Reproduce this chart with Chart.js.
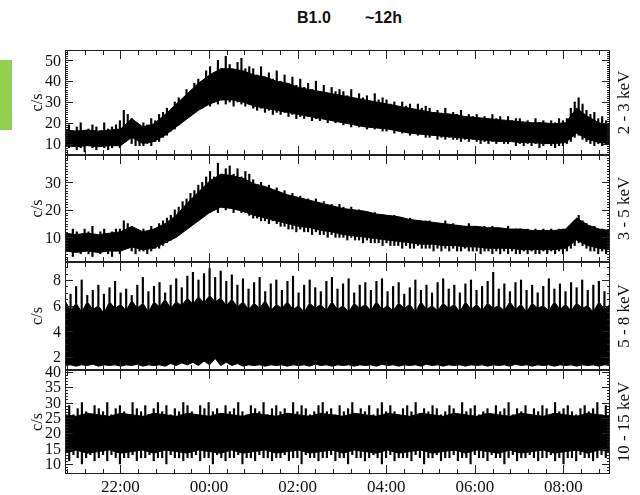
<!DOCTYPE html>
<html>
<head>
<meta charset="utf-8">
<script src="https://cdn.jsdelivr.net/npm/chart.js@4.4.1/dist/chart.umd.min.js"></script>
<style>
  body { margin: 0; background: #fff; }
  #wrap { position: relative; width: 640px; height: 495px; overflow: hidden; }
  canvas { position: absolute; left: 0; }
  .ttl { position: absolute; top: 9px; font: bold 16px "Liberation Sans", Arial, sans-serif; color: #111; }
  #tag { position: absolute; left: 0; top: 60px; width: 12px; height: 70px; background: #92D050; }
</style>
</head>
<body>
<div id="wrap">
  <span class="ttl" style="left:297px">B1.0</span>
  <span class="ttl" style="left:365px">~12h</span>
  <div id="tag"></div>
  <canvas id="c1" width="640" height="135" style="top:35px"></canvas>
  <canvas id="c2" width="640" height="137" style="top:140px"></canvas>
  <canvas id="c3" width="640" height="138" style="top:247px"></canvas>
  <canvas id="c4" width="640" height="140" style="top:355px"></canvas>
</div>
<script>
// time runs in hours after midnight of the first day (24 = 00:00, 32 = 08:00)
const tStart = 20.75;
const tEnd = 33.05;
const hourTicks = [22, 24, 26, 28, 30, 32];
const hourLabels = ["22:00", "00:00", "02:00", "04:00", "06:00", "08:00"];

// 2 - 3 keV: dense core of the band (50 samples) and the spike extremes (140 samples)
const core23Hi = [16.5,16,16.5,16,16.5,17,22,18,19.5,24, 29,34,39,43,46,46,45,43,42,40,
  39,37,36,35,34,33,32,31,30,29, 28,27,26,25,24.5,24,23,22.5,22,21.5, 21,20.5,20,20,19.5,20,27,23,20,19];
const core23Lo = [9,8.5,9,8.5,9,9,13,10,11,14, 18,22,26,29,31,31,30,28,27,26,
  25,24,23,22,21,20,19,18,17.5,17, 16,15,14.5,14,13.5,13,12.5,12,11.5,11, 11,10.5,10.5,10,10,10.5,15,12,10.5,10];
const up23 = [17,19,16,18,20,16,17,19,18,16,20,17,18,19, 21,26,24,22,19,18, 20,19,22,21,24,25,
  27,26,30,32,31,36,35,39,41,40,45, 47,44,50,46,52,48,45,49,51,46,47,
  46,43,47,42,44,41,45,40,43,39,42,38, 41,37,39,36,40,35,38,34,37,35,36,
  35,33,36,31,34,32,33,30,34,31,32, 31,29,30,27,30,28,29,26,29,27,28,
  27,25,26,24,27,23,25,24,26,22,24,23, 24,22,23,21,24,22,23,20,23,21,22,
  22,20,21,19,22,20,21,19,21,20,22, 21,22,27,30,32,29,26,24,25,22,23,21,20];
const dn23 = [7,8,9,7,8,6,9,8,7,9,8,7,8,9, 8,11,12,10,9,9, 9,10,9,11,11,13,
  14,16,17,19,21,22,24,25,27,27,29, 28,30,29,31,29,30,28,30,29,28,29,
  27,26,27,25,26,24,25,24,25,23,24,22, 23,22,23,21,22,21,22,20,21,20,21,
  19,20,18,19,18,19,17,18,17,18,16, 16,17,15,16,15,16,14,15,14,15,13,
  13,14,12,13,12,13,12,12,11,12,11,12, 11,10,11,10,11,10,11,10,10,11,9,
  10,9,10,9,10,8,9,10,9,8,9, 9,10,11,13,14,12,11,10,9,10,9,10,9];

// 3 - 5 keV
const core35Hi = [11.5,11,11.5,11,11.5,12,14,12,13,15, 18,22.5,26.5,30.5,33,32.5,31.5,29.5,28.5,27,
  25.5,24.5,23.5,22.5,21.5,20.5,20,19.5,18.5,18, 17.5,16.5,16,15.5,15,14.5,14,14,13.5,13.5,
  13,13,12.5,12.5,12.5,13,17,14.5,13,12.5];
const core35Lo = [5,4.5,5,4.5,5,5,6.5,5.5,6,8, 10,13,16,19,21,20.5,19.5,18,17,16,
  15,14,13.5,12.5,12,11,10.5,10,9.5,9, 8.5,8,7.5,7.5,7,7,6.5,6.5,6,6, 6,5.5,5.5,5.5,5.5,6,9,7,6,5.5];
const up35 = [12,11,13,12,11,13,12,14,11,12,13,11,12,13, 13,16,15,13,12,12, 13,12,14,13,15,16,
  17,18,20,21,23,24,26,27,29,30,32, 34,32,37,33,35,36,33,35,32,34,33,
  31,29,30,28,29,27,28,26,27,25,26,24, 25,23,24,22,24,22,23,21,22,21,22,
  21,20,21,19,20,18,19,18,19,17,18, 18,17,18,16,17,16,17,15,16,15,16,
  16,15,15,14,16,14,15,13,14,14,15,13, 14,13,14,13,14,12,13,13,14,12,13,
  13,12,13,12,13,12,13,12,13,12,13, 13,12,14,16,18,16,15,14,14,13,13,12,13];
const dn35 = [4,5,3,5,4,5,4,3,5,4,5,4,3,5, 4,6,6,5,4,5, 5,4,5,6,6,7,
  8,9,10,12,12,14,15,16,17,18,19, 19,20,19,21,20,21,19,20,19,19,18,
  17,17,16,16,15,16,15,14,14,13,13,12, 13,12,12,11,12,11,11,10,11,10,10,
  10,9,10,9,9,8,9,8,8,8,7, 8,7,7,7,6,7,6,6,7,6,6,
  6,5,6,5,6,5,6,5,5,6,5,5, 5,4,5,5,4,5,4,5,4,5,4,
  4,5,4,5,4,4,5,4,5,4,5, 4,5,6,7,8,7,6,5,5,4,5,4,5];

// 5 - 8 keV: spike tops, top of the solid core, bottom of the core
const peak58 = [7.8,6.9,7.5,8.0,6.8,7.2,7.6,6.9,7.4,7.9, 7.0,7.3,6.8,7.6,8.2,7.1,7.5,7.8,7.0,7.6,
  8.1,7.4,8.3,8.6,8.0,8.5,8.9,8.2,8.7,7.9, 8.4,7.6,8.1,7.3,7.8,8.2,7.1,7.7,8.0,7.2,
  7.9,8.3,7.0,7.6,8.0,7.4,7.1,7.9,8.2,7.3, 7.7,8.1,7.0,7.6,7.8,7.2,7.9,8.1,7.1,7.5,
  7.8,6.9,7.4,8.0,7.2,7.6,7.0,7.8,8.1,7.3, 7.6,7.0,7.7,8.0,7.2,7.5,7.9,8.6,7.3,7.7,
  7.1,7.8,8.0,7.2,7.6,7.0,7.5,8.1,7.3,7.7, 7.1,7.8,7.4,8.0,7.2,7.6,7.9,7.1,7.5];
const top58 = [6.4,5.6,6.2,5.5,6.3,5.7,6.0,5.4,6.3,5.8, 6.1,5.6,6.4,5.8,6.2,5.5,6.3,5.9,6.5,5.8,
  6.3,6.0,6.6,6.1,6.7,6.2,6.8,6.3,6.6,6.0, 6.5,5.9,6.3,5.7,6.2,5.8,6.4,5.6,6.1,5.8,
  6.3,5.7,6.0,5.5,6.2,5.8,6.1,5.6,6.3,5.7, 6.0,5.5,6.2,5.8,6.1,5.6,6.3,5.7,6.0,5.6,
  6.2,5.8,6.1,5.5,6.3,5.7,6.0,5.6,6.2,5.8, 6.1,5.5,6.3,5.7,6.1,5.6,6.2,5.8,6.0,5.6,
  6.3,5.7,6.1,5.5,6.2,5.8,6.0,5.6,6.3,5.7, 6.1,5.6,6.2,5.8,6.0,5.5,6.3,5.7,6.1];
const bot58 = [1.35,1.4,1.3,1.4,1.35,1.45,1.3,1.4,1.35,1.4, 1.3,1.4,1.35,1.45,1.3,1.4,1.35,1.4,1.3,1.5,
  1.35,1.55,1.4,1.6,1.35,1.7,1.4,1.9,1.35,1.6, 1.35,1.5,1.3,1.4,1.35,1.4,1.3,1.4,1.35,1.4,
  1.3,1.4,1.35,1.4,1.3,1.45,1.35,1.4,1.3,1.4, 1.35,1.4,1.3,1.4,1.35,1.4,1.3,1.45,1.35,1.4,
  1.3,1.4,1.35,1.4,1.3,1.45,1.35,1.4,1.3,1.4, 1.35,1.4,1.3,1.4,1.35,1.4,1.3,1.4,1.35,1.4,
  1.3,1.45,1.35,1.4,1.3,1.4,1.35,1.4,1.3,1.4, 1.35,1.4,1.3,1.4,1.35,1.4,1.3,1.4,1.35];

// 10 - 15 keV
const core1015Hi = [26,25.5,26.5,26,25.5,26.5,26,25.5,26.5,26, 25.5,26.5,26,25.5,26.5,26,25.5,26.5,26,25.5,
  26.5,26,25.5,26.5,26,25.5,26.5,26,25.5,26.5, 26,25.5,26.5,26,25.5,26.5,26,25.5,26.5,26,
  25.5,26.5,26,25.5,26.5,26,25.5,26.5,26,25.5];
const core1015Lo = [13.5,14.5,13.5,14,14.5,13.5,14,14.5,13.5,14.5, 14,13.5,14.5,14,13.5,14.5,13.5,14,14.5,13.5,
  14,14.5,13.5,14,14.5,13.5,14.5,14,13.5,14.5, 13.5,14,14.5,13.5,14,14.5,13.5,14.5,14,13.5,
  14.5,13.5,14,14.5,13.5,14,14.5,13.5,14.5,14];
const up1015 = [27,29,26,28,30,27,26,29,28,27,30,26,28,29,27,26,30,28,27,29,
  26,28,30,27,29,26,28,27,30,29, 27,26,29,28,30,27,28,26,29,27, 28,30,27,26,29,28,27,30,26,28,
  29,27,28,26,30,27,29,28,26,27, 29,30,27,28,26,29,27,28,30,26, 28,27,29,26,28,30,27,29,27,26,
  28,29,27,30,26,28,27,29,28,26, 27,29,28,26,30,27,28,29,26,27, 28,26,29,27,28,30,26,28,27,29,
  26,28,27,29,28,26,30,27,28,29, 27,26,28,29,27,28,30,26,29,27];
const dn1015 = [12,11,13,12,10,12,13,11,12,13,11,13,12,10,12,12,13,11,12,12,
  13,11,12,12,10,13,12,12,11,12, 12,13,11,12,12,10,13,12,11,12, 12,13,10,12,12,11,13,12,12,11,
  12,12,13,11,12,12,10,13,12,12, 11,12,12,13,11,12,12,10,13,12, 12,11,12,13,12,10,12,13,11,12,
  12,12,11,13,12,10,12,12,13,11, 12,12,13,11,12,12,10,13,12,12, 11,13,12,12,10,12,13,11,12,12,
  13,12,11,12,12,13,11,12,10,12, 12,11,13,12,12,11,12,13,12,12];

function timeOf(i, n) {
  return tStart + i * (tEnd - tStart) / (n - 1);
}
function series(vals) {
  return vals.map((v, i) => ({ x: timeOf(i, vals.length), y: v }));
}
function spans(lo, hi) {
  return hi.map((v, i) => ({ x: timeOf(i, hi.length), y: [lo[i], v] }));
}
function band(hi, lo) {
  return [
    { data: series(hi), borderColor: "#000", backgroundColor: "#000", borderWidth: 1, fill: "+1" },
    { data: series(lo), borderColor: "#000", borderWidth: 1, fill: false }
  ];
}
function spikes(lo, hi, w) {
  return { type: "bar", data: spans(lo, hi), backgroundColor: "#000", barThickness: w, grouped: false };
}

const serif = '"Liberation Serif", "Times New Roman", serif';

const frameTicks = {
  id: "frameTicks",
  afterDatasetsDraw(chart, args, o) {
    const { ctx, chartArea: a, scales: { x, y } } = chart;
    ctx.save();
    ctx.strokeStyle = "#222";
    ctx.lineWidth = 1;
    ctx.beginPath();
    // time ticks, every 24 min, long ones every 2 h
    for (let k = -3; k <= 28; k++) {
      const h = 22 + k * 0.4;
      if (h < tStart || h > tEnd) continue;
      const px = Math.round(x.getPixelForValue(h)) + 0.5;
      const major = Math.abs(h - Math.round(h)) < 1e-6 && Math.round(h) % 2 === 0;
      const len = major ? 9 : 5;
      ctx.moveTo(px, a.top); ctx.lineTo(px, a.top + len);
      ctx.moveTo(px, a.bottom); ctx.lineTo(px, a.bottom - len);
    }
    // count-rate ticks on both sides
    const n = Math.round((o.max - o.min) / o.minor);
    for (let k = 0; k <= n + 1; k++) {
      const v = Math.ceil(o.min / o.minor) * o.minor + k * o.minor;
      if (v > o.max) break;
      const py = Math.round(y.getPixelForValue(v)) + 0.5;
      const major = o.labels.some(l => Math.abs(l - v) < 1e-6);
      const len = major ? 8 : 3;
      ctx.moveTo(a.left, py); ctx.lineTo(a.left + len, py);
      ctx.moveTo(a.right, py); ctx.lineTo(a.right - len, py);
    }
    ctx.stroke();
    ctx.strokeRect(a.left + 0.5, a.top + 0.5, a.width - 1, a.height - 1);

    ctx.fillStyle = "#111";
    ctx.font = "16px " + serif;
    ctx.textAlign = "right";
    ctx.textBaseline = "middle";
    o.labels.forEach(l => ctx.fillText(String(l), a.left - 4, y.getPixelForValue(l) + 1));

    const midY = (a.top + a.bottom) / 2;
    ctx.textAlign = "center";
    ctx.save();
    ctx.translate(38, midY);
    ctx.rotate(-Math.PI / 2);
    ctx.fillText("c/s", 0, 0);
    ctx.restore();
    ctx.save();
    ctx.font = "17px " + serif;
    ctx.translate(625, midY);
    ctx.rotate(-Math.PI / 2);
    ctx.fillText(o.side, 0, 0);
    ctx.restore();

    if (o.timeLabels) {
      ctx.font = "17px " + serif;
      hourTicks.forEach((h, i) => ctx.fillText(hourLabels[i], x.getPixelForValue(h), a.bottom + 14));
    }
    ctx.restore();
  }
};

function makePanel(id, datasets, yMin, yMax, labels, minor, side, padBottom, timeLabels) {
  new Chart(document.getElementById(id), {
    type: "line",
    data: { datasets: datasets },
    options: {
      responsive: false,
      animation: false,
      layout: { padding: { left: 65, right: 30, top: 15, bottom: padBottom } },
      elements: { point: { radius: 0 }, line: { tension: 0 } },
      scales: {
        x: { type: "linear", min: tStart, max: tEnd, display: false, offset: false },
        y: { min: yMin, max: yMax, display: false }
      },
      plugins: {
        legend: { display: false },
        tooltip: { enabled: false },
        frameTicks: { min: yMin, max: yMax, labels: labels, minor: minor, side: side, timeLabels: timeLabels }
      }
    },
    plugins: [frameTicks]
  });
}

makePanel("c1", [spikes(dn23, up23, 1.5), ...band(core23Hi, core23Lo)],
  4.5, 55, [10, 20, 30, 40, 50], 1, "2 - 3 keV", 15, false);
makePanel("c2", [spikes(dn35, up35, 1.5), ...band(core35Hi, core35Lo)],
  1, 40, [10, 20, 30], 1, "3 - 5 keV", 15, false);
makePanel("c3", [spikes(top58, peak58, 1.5), ...band(top58, bot58)],
  1, 9.4, [2, 4, 6, 8], 0.5, "5 - 8 keV", 15, false);
makePanel("c4", [spikes(dn1015, up1015, 1.5), ...band(core1015Hi, core1015Lo)],
  6.7, 40.6, [10, 15, 20, 25, 30, 35, 40], 1, "10 - 15 keV", 21, true);
</script>
</body>
</html>
